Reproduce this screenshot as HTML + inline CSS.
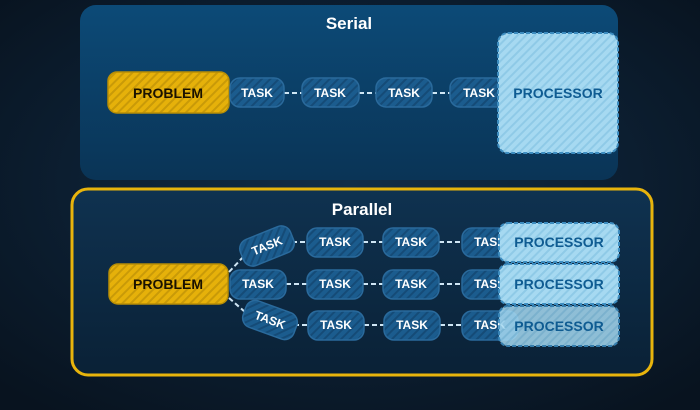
<!DOCTYPE html>
<html><head><meta charset="utf-8"><style>
html,body{margin:0;padding:0;background:#0b1828;}
svg{display:block}
text{font-family:"Liberation Sans",sans-serif;font-weight:bold;}
</style></head><body>
<svg width="700" height="410" viewBox="0 0 700 410" xmlns="http://www.w3.org/2000/svg">
<defs>
<radialGradient id="bg" cx="50%" cy="45%" r="70%"><stop offset="0" stop-color="#112d48"/><stop offset="1" stop-color="#08131f"/></radialGradient>
<linearGradient id="ser" x1="0" y1="0" x2="0" y2="1"><stop offset="0" stop-color="#0c4a77"/><stop offset="1" stop-color="#0a3456"/></linearGradient>
<linearGradient id="par" x1="0" y1="0" x2="0" y2="1"><stop offset="0" stop-color="#0f3250"/><stop offset="1" stop-color="#0a2136"/></linearGradient>
<pattern id="sy" width="6" height="6" patternUnits="userSpaceOnUse" patternTransform="rotate(45)"><rect width="6" height="6" fill="#e6b10a"/><rect width="2" height="6" fill="#c99a08"/></pattern>
<pattern id="sb" width="6" height="6" patternUnits="userSpaceOnUse" patternTransform="rotate(45)"><rect width="6" height="6" fill="#1b5c8e"/><rect width="2" height="6" fill="#154b77"/></pattern>
<pattern id="sp" width="6" height="6" patternUnits="userSpaceOnUse" patternTransform="rotate(45)"><rect width="6" height="6" fill="#a6d9f1"/><rect width="2" height="6" fill="#8fcae7"/></pattern>
</defs>
<rect width="700" height="410" fill="url(#bg)"/>
<!-- Serial -->
<rect x="80" y="5" width="538" height="175" rx="16" fill="url(#ser)"/>
<text x="349" y="29" font-size="17" fill="#fff" text-anchor="middle">Serial</text>
<g stroke="#cfe6f5" stroke-width="2" stroke-dasharray="5,3"><line x1="284" y1="93" x2="302" y2="93"/><line x1="359" y1="93" x2="376" y2="93"/><line x1="432" y1="93" x2="450" y2="93"/></g>
<rect x="108" y="72" width="121" height="41" rx="9" fill="url(#sy)" stroke="#b88e05" stroke-width="1.5"/>
<text x="168" y="98" font-size="14" fill="#1a1200" text-anchor="middle">PROBLEM</text>
<g fill="url(#sb)" stroke="#2a6a9c" stroke-width="1.5">
<rect x="230" y="78" width="54" height="29" rx="10"/><rect x="302" y="78" width="57" height="29" rx="10"/><rect x="376" y="78" width="56" height="29" rx="10"/><rect x="450" y="78" width="56" height="29" rx="10"/></g>
<g font-size="12" fill="#fff" text-anchor="middle"><text x="257" y="97">TASK</text><text x="330" y="97">TASK</text><text x="404" y="97">TASK</text><text x="479" y="97">TASK</text></g>
<rect x="498" y="33" width="120" height="120" rx="10" fill="url(#sp)" stroke="#3d8dc0" stroke-width="2" stroke-dasharray="4,2"/>
<text x="558" y="98" font-size="14" fill="#0f5c92" text-anchor="middle">PROCESSOR</text>
<!-- Parallel -->
<rect x="72" y="189" width="580" height="186" rx="16" fill="url(#par)" stroke="#e8b40c" stroke-width="3"/>
<text x="362" y="215" font-size="17" fill="#fff" text-anchor="middle">Parallel</text>
<g stroke="#cfe6f5" stroke-width="2" stroke-dasharray="5,3">
<line x1="292" y1="242" x2="307" y2="242"/><line x1="363" y1="242" x2="383" y2="242"/><line x1="439" y1="242" x2="462" y2="242"/>
<line x1="286" y1="284" x2="307" y2="284"/><line x1="363" y1="284" x2="383" y2="284"/><line x1="439" y1="284" x2="462" y2="284"/>
<line x1="294" y1="325" x2="308" y2="325"/><line x1="364" y1="325" x2="384" y2="325"/><line x1="440" y1="325" x2="462" y2="325"/>
<line x1="229" y1="272" x2="244" y2="256"/><line x1="229" y1="298" x2="245" y2="312"/></g>
<rect x="109" y="264" width="119" height="40" rx="9" fill="url(#sy)" stroke="#b88e05" stroke-width="1.5"/>
<text x="168" y="289" font-size="14" fill="#1a1200" text-anchor="middle">PROBLEM</text>
<g fill="url(#sb)" stroke="#2a6a9c" stroke-width="1.5">
<rect x="240" y="232" width="54" height="28" rx="10" transform="rotate(-22 267 246)"/>
<rect x="243" y="306" width="54" height="28" rx="10" transform="rotate(20 270 320)"/>
<rect x="307" y="228" width="56" height="29" rx="10"/><rect x="383" y="228" width="56" height="29" rx="10"/><rect x="462" y="228" width="56" height="29" rx="10"/>
<rect x="230" y="270" width="56" height="29" rx="10"/><rect x="307" y="270" width="56" height="29" rx="10"/><rect x="383" y="270" width="56" height="29" rx="10"/><rect x="462" y="270" width="56" height="29" rx="10"/>
<rect x="308" y="311" width="56" height="29" rx="10"/><rect x="384" y="311" width="56" height="29" rx="10"/><rect x="462" y="311" width="56" height="29" rx="10"/></g>
<g font-size="12" fill="#fff" text-anchor="middle">
<text x="267" y="250" transform="rotate(-22 267 246)">TASK</text>
<text x="270" y="324" transform="rotate(20 270 320)">TASK</text>
<text x="335" y="246">TASK</text><text x="411" y="246">TASK</text><text x="490" y="246">TASK</text>
<text x="258" y="288">TASK</text><text x="335" y="288">TASK</text><text x="411" y="288">TASK</text><text x="490" y="288">TASK</text>
<text x="336" y="329">TASK</text><text x="412" y="329">TASK</text><text x="490" y="329">TASK</text></g>
<g fill="url(#sp)" stroke="#3d8dc0" stroke-width="2" stroke-dasharray="4,2">
<rect x="499" y="223" width="120" height="39" rx="9"/><rect x="499" y="264" width="120" height="40" rx="9"/><rect x="499" y="306" width="120" height="40" rx="9" opacity="0.85"/></g>
<g font-size="14" fill="#0f5c92" text-anchor="middle"><text x="559" y="247">PROCESSOR</text><text x="559" y="289">PROCESSOR</text><text x="559" y="331">PROCESSOR</text></g>
</svg>
</body></html>
